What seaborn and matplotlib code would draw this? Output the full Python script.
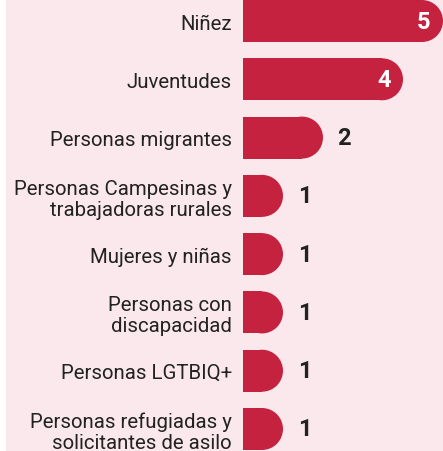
import matplotlib
matplotlib.use("Agg")
import matplotlib.pyplot as plt
from matplotlib.patches import Rectangle, Ellipse
import seaborn as sns
import pandas as pd

categorias = [
    "Niñez",
    "Juventudes",
    "Personas migrantes",
    "Personas Campesinas y\ntrabajadoras rurales",
    "Mujeres y niñas",
    "Personas con\ndiscapacidad",
    "Personas LGTBIQ+",
    "Personas refugiadas y\nsolicitantes de asilo",
]
valores = [5, 4, 2, 1, 1, 1, 1, 1]

FONDO = "#FAE8EC"
BARRA = "#C4223E"
TEXTO = "#222222"

sns.set_theme(style="white")
plt.rcParams["font.family"] = ["Roboto", "DejaVu Sans"]

df = pd.DataFrame({"grupo": categorias, "n": valores})

W, H = 443, 452
fig = plt.figure(figsize=(W / 100, H / 100), dpi=100, facecolor="white")
fig.patches.append(Rectangle((6 / W, 0), 1 - 6 / W, 1, transform=fig.transFigure,
                             facecolor=FONDO, edgecolor="none", zorder=-10))

ax = fig.add_axes([243 / W, 0, 1 - 243 / W, 1])
ax.set_facecolor("none")

alto = 0.72
sns.barplot(data=df, x="n", y="grupo", orient="h", color=BARRA, width=alto,
            saturation=1, ax=ax)

xmax = 5.0
paso_px = (430 - 22) / 7
ax.set_xlim(0, xmax)
ax.set_ylim(7 + 22 / paso_px, -22 / paso_px)

# radius of the rounded end, in data units along x
px_x = xmax / (W - 243)
radio_px = alto * paso_px / 2
rx = radio_px * px_x

for p in list(ax.patches):
    y0 = p.get_y()
    w, h = p.get_width(), p.get_height()
    p.set_visible(False)
    ax.add_patch(Rectangle((0, y0), max(w - rx, 0), h, facecolor=BARRA,
                           edgecolor="none", clip_on=True))
    ax.add_patch(Ellipse((w - rx, y0 + h / 2), 2 * rx, h, facecolor=BARRA,
                         edgecolor="none", clip_on=True))

for i, v in enumerate(valores):
    if v >= 4:
        ax.annotate(str(v), (v, i), xytext=(-9, 0), textcoords="offset points",
                    ha="right", va="center", color="white", fontsize=17,
                    fontweight="bold")
    else:
        ax.annotate(str(v), (v, i), xytext=(10.5, 0), textcoords="offset points",
                    ha="left", va="center", color=TEXTO, fontsize=17,
                    fontweight="bold")

ax.set_xlabel("")
ax.set_ylabel("")
ax.set_xticks([])
ax.tick_params(axis="y", length=0, pad=8, labelsize=14.7, colors=TEXTO)
for t in ax.get_yticklabels():
    t.set_linespacing(1.12)
    t.set_multialignment("right")
sns.despine(ax=ax, left=True, bottom=True)

fig.savefig("out.png", dpi=100, facecolor=fig.get_facecolor())
